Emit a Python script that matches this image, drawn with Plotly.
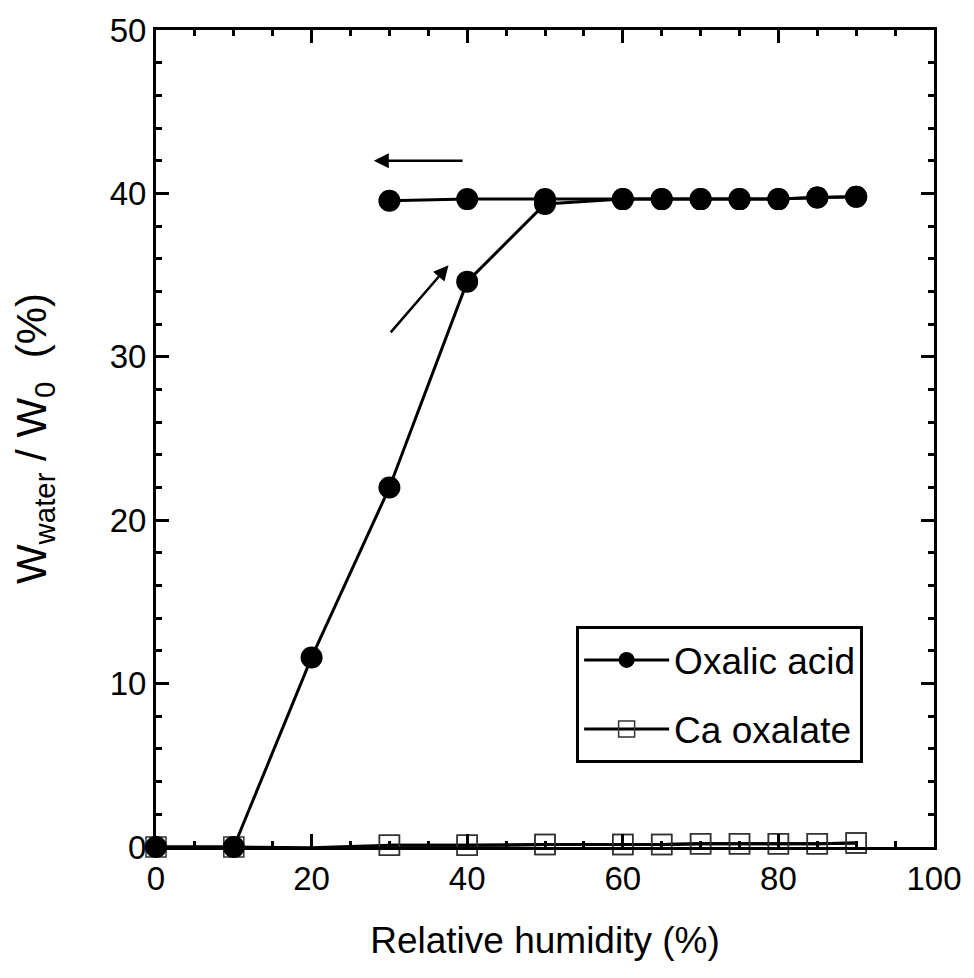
import plotly.graph_objects as go

# Oxalic acid - adsorption branch
rh_ads = [0, 10, 20, 30, 40, 50, 60, 65, 70, 75, 80, 85, 90]
oxa_ads = [0, 0, 11.6, 22.0, 34.6, 39.35, 39.65, 39.65, 39.65, 39.65, 39.65, 39.75, 39.8]
# Oxalic acid - desorption branch
rh_des = [90, 85, 80, 75, 70, 65, 60, 50, 40, 30]
oxa_des = [39.8, 39.75, 39.65, 39.65, 39.65, 39.65, 39.65, 39.65, 39.65, 39.55]
# Ca oxalate
ca_ads = [0, 0, -0.05, 0.1, 0.1, 0.15, 0.15, 0.15, 0.2, 0.2, 0.2, 0.2, 0.25]
ca_des = [0.25, 0.2, 0.2, 0.2, 0.2, 0.15, 0.15, 0.15, 0.1, 0.1]

x_ticks = [0, 20, 40, 60, 80, 100]
y_ticks = [0, 10, 20, 30, 40, 50]

FONT = "Liberation Sans, Arial, sans-serif"

fig = go.Figure()

line = dict(color="black", width=3)
sq_marker = dict(symbol="square-open", size=20, color="#333333",
                 line=dict(width=1.5, color="#333333"))
ci_marker = dict(symbol="circle", size=22, color="black")

fig.add_trace(go.Scatter(x=rh_ads, y=ca_ads, mode="lines+markers", name="Ca oxalate",
                         line=line, marker=sq_marker, cliponaxis=False,
                         legendgroup="b", legendrank=2))
fig.add_trace(go.Scatter(x=rh_des, y=ca_des, mode="lines+markers", showlegend=False,
                         line=line, marker=sq_marker, cliponaxis=False,
                         legendgroup="b", legendrank=2))
fig.add_trace(go.Scatter(x=rh_ads, y=oxa_ads, mode="lines+markers", name="Oxalic acid",
                         line=line, marker=ci_marker, cliponaxis=False,
                         legendgroup="a", legendrank=1))
fig.add_trace(go.Scatter(x=rh_des, y=oxa_des, mode="lines+markers", showlegend=False,
                         line=line, marker=ci_marker, cliponaxis=False,
                         legendgroup="a", legendrank=1))

# arrows
fig.add_annotation(x=28.0, y=42.0, ax=39.6, ay=42.0, xref="x", yref="y", axref="x", ayref="y",
                   text="", showarrow=True, arrowhead=2, arrowsize=1.2, arrowwidth=2.5,
                   arrowcolor="black")
fig.add_annotation(x=37.6, y=35.6, ax=30.0, ay=31.4, xref="x", yref="y", axref="x", ayref="y",
                   text="", showarrow=True, arrowhead=2, arrowsize=1.2, arrowwidth=2.5,
                   arrowcolor="black")

axis_common = dict(
    showline=True, linecolor="black", linewidth=3, mirror="ticks",
    ticks="inside", ticklen=13, tickwidth=3, tickcolor="black",
    showgrid=False, zeroline=False,
    tickfont=dict(family=FONT, size=33, color="black"),
)

fig.update_xaxes(range=[0, 100], tickvals=x_ticks, ticktext=[str(v) for v in x_ticks],
                 minor=dict(ticks="inside", ticklen=6, tickwidth=3, tickcolor="black", dtick=5,
                            tick0=0, showgrid=False),
                 title=dict(text="Relative humidity (%)", font=dict(family=FONT, size=37, color="black"),
                            standoff=32),
                 **axis_common)
fig.update_yaxes(range=[0, 50], tickvals=y_ticks, ticktext=[str(v) for v in y_ticks],
                 minor=dict(ticks="inside", ticklen=6, tickwidth=3, tickcolor="black", dtick=2,
                            tick0=0, showgrid=False),
                 title=dict(text="W<sub>water</sub> / W<sub>0</sub>  (%)",
                            font=dict(family=FONT, size=42, color="black"), standoff=50),
                 **axis_common)

fig.update_layout(
    width=974, height=978,
    margin=dict(l=156, r=38, t=27, b=131),
    plot_bgcolor="white", paper_bgcolor="white",
    font=dict(family=FONT, color="black"),
    legend=dict(x=0.54, y=0.27, xanchor="left", yanchor="top",
                bgcolor="white", bordercolor="black", borderwidth=3,
                font=dict(family=FONT, size=37, color="black"),
                traceorder="grouped", itemwidth=85, tracegroupgap=18),
)

fig.write_html("out.html")
